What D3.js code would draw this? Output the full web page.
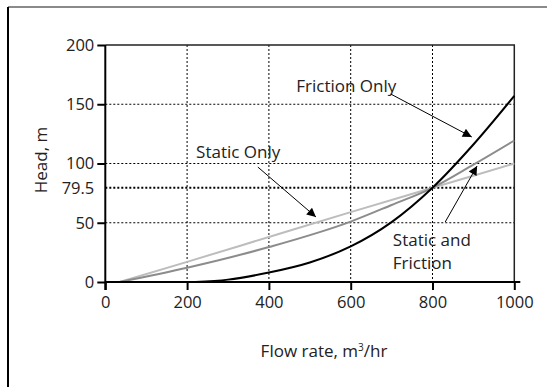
<!DOCTYPE html>
<html>
<head>
<meta charset="utf-8">
<script src="https://cdn.jsdelivr.net/npm/d3@7"></script>
<style>
  body { margin: 0; background: #fff; }
  svg text { font-family: "Open Sans", sans-serif; fill: #222; }
</style>
</head>
<body>
<div id="chart"></div>
<script>
// curve points: [flow m3/hr, head m]
const staticOnly = [[35, 0], [200, 17], [400, 38], [600, 59], [800, 79.5], [1000, 100]];
const staticFriction = [[35, 0], [200, 12], [400, 29.5], [600, 51], [700, 65], [800, 79.5], [900, 99], [1000, 119.4]];
const frictionOnly = [[220, 0], [300, 2], [400, 8], [500, 16.5], [600, 30], [700, 50.5], [800, 79.5], [900, 116], [1000, 157]];

const xTicks = [0, 200, 400, 600, 800, 1000];
const yTicks = [0, 50, 79.5, 100, 150, 200];
const yGrid = [50, 100, 150];
const refHead = 79.5;

// annotations in data units: label lines, arrow start/end
const notes = [
  { lines: ['Friction Only'], at: [467, 160.3], from: [698, 158.6], to: [896, 122.4] },
  { lines: ['Static Only'], at: [222, 104.6], from: [373, 97], to: [515, 54.9] },
  { lines: ['Static and', 'Friction'], at: [703, 30.4], from: [831, 50.6], to: [909, 97.9] }
];

const width = 547;
const height = 387;

const svg = d3.select('#chart')
  .append('svg')
  .attr('width', width)
  .attr('height', height);

// outer frame (only top + left show)
svg.append('line')
  .attr('x1', 8).attr('x2', width).attr('y1', 7).attr('y2', 7)
  .attr('stroke', '#8a8a8a').attr('stroke-width', 2);
svg.append('line')
  .attr('x1', 8).attr('x2', 8).attr('y1', 7).attr('y2', height)
  .attr('stroke', '#000').attr('stroke-width', 2);

const x = d3.scaleLinear().domain([0, 1000]).range([105.3, 514.3]);
const y = d3.scaleLinear().domain([0, 200]).range([282, 45]);

svg.append('defs').append('marker')
  .attr('id', 'head')
  .attr('viewBox', '0 0 10 10')
  .attr('refX', 10).attr('refY', 5)
  .attr('markerWidth', 11).attr('markerHeight', 9)
  .attr('markerUnits', 'userSpaceOnUse')
  .attr('orient', 'auto')
  .append('path')
  .attr('d', 'M0,0 L10,5 L0,10 Z')
  .attr('fill', '#000');

// grid
const grid = svg.append('g');
grid.selectAll('.vg')
  .data(xTicks.slice(1, -1))
  .enter().append('line')
  .attr('x1', d => x(d)).attr('x2', d => x(d))
  .attr('y1', y(200)).attr('y2', y(0))
  .attr('stroke', '#000').attr('stroke-width', 1)
  .attr('stroke-dasharray', '2,2');
grid.selectAll('.hg')
  .data(yGrid)
  .enter().append('line')
  .attr('x1', x(0)).attr('x2', x(1000))
  .attr('y1', d => y(d)).attr('y2', d => y(d))
  .attr('stroke', '#000').attr('stroke-width', 1)
  .attr('stroke-dasharray', '2,2');
grid.append('line')
  .attr('x1', x(0)).attr('x2', x(1000))
  .attr('y1', y(refHead)).attr('y2', y(refHead))
  .attr('stroke', '#000').attr('stroke-width', 2)
  .attr('stroke-dasharray', '2,2');

// plot frame top + right
svg.append('path')
  .attr('d', `M${x(0)},${y(200)} H${x(1000)} V${y(0)}`)
  .attr('fill', 'none')
  .attr('stroke', '#222').attr('stroke-width', 1.5);

// curves
const line = d3.line()
  .x(d => x(d[0]))
  .y(d => y(d[1]))
  .curve(d3.curveMonotoneX);

[[staticOnly, '#bdbdbd'], [staticFriction, '#8c8c8c'], [frictionOnly, '#000']]
  .forEach(([pts, col]) => {
    svg.append('path')
      .datum(pts)
      .attr('d', line)
      .attr('fill', 'none')
      .attr('stroke', col)
      .attr('stroke-width', 2);
  });

// axes
const xAxis = svg.append('g')
  .attr('transform', `translate(0,${y(0)})`)
  .call(d3.axisBottom(x).tickValues(xTicks).tickSize(8).tickPadding(6).tickFormat(d3.format('d')));
xAxis.select('.domain').attr('d', `M${x(0)},0 H${x(1000) + 6}`);

const yAxis = svg.append('g')
  .attr('transform', `translate(${x(0)},0)`)
  .call(d3.axisLeft(y).tickValues(yTicks).tickSize(8).tickPadding(3).tickFormat(d => d));
yAxis.select('.domain').attr('d', `M0,${y(200)} V${y(0) + 8}`);

[xAxis, yAxis].forEach(g => {
  g.selectAll('line, path').attr('stroke', '#000').attr('stroke-width', 2);
  g.selectAll('text').style('font-size', '16.5px').attr('fill', '#222');
});
yAxis.selectAll('.tick').filter(d => d === refHead).select('line').remove();

// axis titles
svg.append('text')
  .attr('transform', `translate(47,160) rotate(-90)`)
  .attr('text-anchor', 'middle')
  .style('font-size', '17px')
  .text('Head, m');

const xt = svg.append('text')
  .attr('x', 324).attr('y', 357)
  .attr('text-anchor', 'middle')
  .style('font-size', '17px');
xt.append('tspan').text('Flow rate, m');
xt.append('tspan').attr('dy', -6).style('font-size', '10px').text('3');
xt.append('tspan').attr('dy', 6).text('/hr');

// annotations
notes.forEach(n => {
  const t = svg.append('text')
    .attr('x', x(n.at[0])).attr('y', y(n.at[1]))
    .style('font-size', '17px');
  n.lines.forEach((s, i) => {
    t.append('tspan')
      .attr('x', x(n.at[0]))
      .attr('dy', i === 0 ? 0 : 23)
      .text(s);
  });
  svg.append('line')
    .attr('x1', x(n.from[0])).attr('y1', y(n.from[1]))
    .attr('x2', x(n.to[0])).attr('y2', y(n.to[1]))
    .attr('stroke', '#000').attr('stroke-width', 1)
    .attr('marker-end', 'url(#head)');
});
</script>
</body>
</html>
